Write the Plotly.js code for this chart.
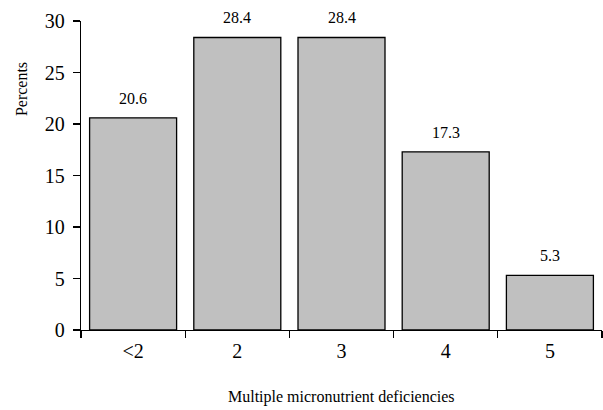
<!DOCTYPE html>
<html>
<head>
<meta charset="utf-8">
<script src="https://cdn.plot.ly/plotly-3.0.1.min.js"></script>
<style>html,body{margin:0;padding:0;background:#fff;}#chart{width:603px;height:410px;}</style>
</head>
<body>
<div id="chart"></div>
<script>
const categories = ['<2', '2', '3', '4', '5'];
const percents = [20.6, 28.4, 28.4, 17.3, 5.3];
const valueLabels = ['20.6', '28.4', '28.4', '17.3', '5.3'];
const yTickValues = [0, 5, 10, 15, 20, 25, 30];

const serif = 'Liberation Serif, Times New Roman, serif';

const trace = {
  type: 'bar',
  x: categories,
  y: percents,
  marker: {color: '#c0c0c0', line: {color: '#000', width: 1.3}},
  hoverinfo: 'none'
};

const annotations = categories.map((c, i) => ({
  x: i, y: percents[i], xref: 'x', yref: 'y',
  text: valueLabels[i], showarrow: false,
  xanchor: 'center', yanchor: 'bottom', yshift: 9,
  font: {family: serif, size: 16, color: '#000'}
}));
annotations.push({
  xref: 'paper', yref: 'paper', x: -0.113, y: 0.78,
  xanchor: 'center', yanchor: 'middle',
  text: 'Percents', textangle: -90, showarrow: false,
  font: {family: serif, size: 16, color: '#000'}
});
annotations.push({
  xref: 'paper', yref: 'paper', x: 0.5, y: -0.217,
  xanchor: 'center', yanchor: 'middle',
  text: 'Multiple micronutrient deficiencies', showarrow: false,
  font: {family: serif, size: 16, color: '#000'}
});

const layout = {
  width: 603, height: 410,
  margin: {l: 81, r: 1, t: 21, b: 80},
  paper_bgcolor: '#fff', plot_bgcolor: '#fff',
  showlegend: false,
  bargap: 0.165,
  font: {family: serif, color: '#000'},
  xaxis: {
    type: 'category', range: [-0.5, 4.5],
    showline: true, linecolor: '#000', linewidth: 1.3,
    ticks: 'outside', tickson: 'boundaries', ticklen: 7, tickwidth: 1.3, tickcolor: '#000',
    showgrid: false, zeroline: false, ticklabelstandoff: 3,
    tickfont: {family: serif, size: 20, color: '#000'}
  },
  yaxis: {
    range: [0, 30], tickvals: yTickValues,
    showline: true, linecolor: '#000', linewidth: 1.3,
    ticks: 'outside', ticklen: 7, tickwidth: 1.3, tickcolor: '#000',
    showgrid: false, zeroline: false, ticklabelstandoff: 4,
    tickfont: {family: serif, size: 20, color: '#000'}
  },
  annotations: annotations
};

Plotly.newPlot('chart', [trace], layout, {staticPlot: true, displayModeBar: false});
</script>
</body>
</html>
